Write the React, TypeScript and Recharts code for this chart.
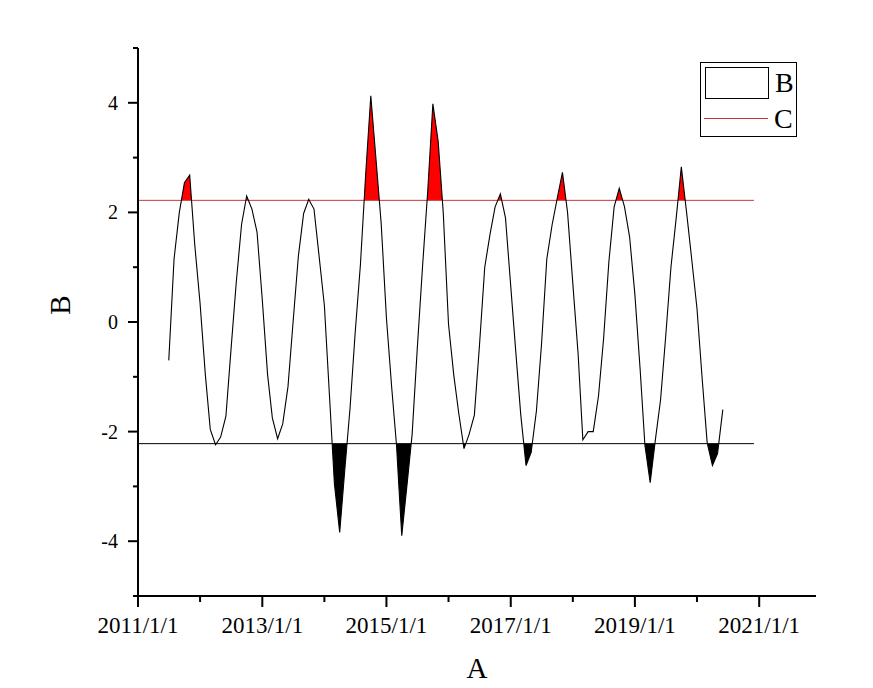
import React from 'react';
import { ComposedChart, Line, Area, XAxis, YAxis, ReferenceLine, Legend } from 'recharts';

// ---- data ----
const START_YEAR = 2011;
const START_MONTH = 7; // first monthly value: 2011/7/1
const B_VALUES: number[] = [
  -0.7, 1.15, 2.0, 2.54, 2.68, 1.4, 0.34, -0.96, -1.96, -2.24, -2.1, -1.72,
  -0.5, 0.73, 1.78, 2.3, 2.06, 1.64, 0.4, -0.96, -1.75, -2.13, -1.86, -1.18,
  0.0, 1.2, 1.98, 2.24, 2.06, 1.2, 0.3, -1.4, -2.95, -3.84, -2.7, -1.57,
  -0.2, 1.05, 2.7, 4.13, 2.95, 1.8, 0.07, -1.2, -2.24, -3.9, -3.0, -2.05,
  -0.5, 1.0, 2.4, 3.98, 3.3, 2.0, -0.04, -0.97, -1.66, -2.31, -2.05, -1.7,
  -0.43, 1.0, 1.6, 2.1, 2.34, 1.9, 0.65, -0.6, -1.7, -2.62, -2.38, -1.62,
  -0.4, 1.15, 1.77, 2.25, 2.73, 2.0, 0.7, -0.58, -2.15, -2.0, -2.0, -1.35,
  -0.3, 1.1, 2.1, 2.44, 2.1, 1.55, 0.5, -0.87, -2.25, -2.93, -2.16, -1.42,
  -0.27, 1.0, 1.9, 2.83, 2.0, 1.15, 0.25, -1.05, -2.2, -2.62, -2.4, -1.6,
];
const C_LEVEL = 2.22; // upper threshold line (series C)
const LOW_LEVEL = -2.22; // lower threshold line
const C_RANGE_DATES: [number, number, number][] = [[2011, 1, 1], [2020, 12, 1]];
const X_TICK_YEARS = [2011, 2012, 2013, 2014, 2015, 2016, 2017, 2018, 2019, 2020, 2021];
const X_DOMAIN_DATES: [number, number, number][] = [[2011, 1, 1], [2021, 12, 1]];
const Y_TICKS = [-5, -4, -3, -2, -1, 0, 1, 2, 3, 4, 5];

const utc = (y: number, m: number, d: number) => Date.UTC(y, m - 1, d);

type Row = { t: number; v: number | null; hi: [number, number]; lo: [number, number] };

const buildData = (): Row[] => {
  const pts = B_VALUES.map((v, i) => ({ t: utc(START_YEAR, START_MONTH + i, 1), v }));
  const rows: Row[] = [];
  pts.forEach((p, i) => {
    rows.push({
      t: p.t,
      v: p.v,
      hi: [C_LEVEL, Math.max(p.v, C_LEVEL)],
      lo: [Math.min(p.v, LOW_LEVEL), LOW_LEVEL],
    });
    const q = pts[i + 1];
    if (!q) return;
    const cross: number[] = [];
    [C_LEVEL, LOW_LEVEL].forEach((th) => {
      if ((p.v - th) * (q.v - th) < 0) {
        const f = (th - p.v) / (q.v - p.v);
        cross.push(p.t + f * (q.t - p.t));
      }
    });
    cross.sort((a, b) => a - b).forEach((t) => {
      rows.push({ t, v: null, hi: [C_LEVEL, C_LEVEL], lo: [LOW_LEVEL, LOW_LEVEL] });
    });
  });
  return rows;
};

const DATA = buildData();
const FONT = '"Liberation Serif", "Times New Roman", serif';

const XTick = (props: any) => {
  const { x, y, payload } = props;
  const year = new Date(payload.value).getUTCFullYear();
  const major = (year - X_TICK_YEARS[0]) % 2 === 0;
  return (
    <g>
      <line x1={x} x2={x} y1={y} y2={y + (major ? 11 : 6)} stroke="#000" strokeWidth={2} />
      {major && (
        <text x={x} y={y + 37} textAnchor="middle" fontFamily={FONT} fontSize={23} fill="#000">
          {`${year}/1/1`}
        </text>
      )}
    </g>
  );
};

const YTick = (props: any) => {
  const { x, y, payload } = props;
  const v = payload.value as number;
  const major = v % 2 === 0;
  return (
    <g>
      <line x1={x} x2={x - (major ? 10 : 5)} y1={y} y2={y} stroke="#000" strokeWidth={2} />
      {major && (
        <text x={x - 20} y={y + 7} textAnchor="end" fontFamily={FONT} fontSize={20} fill="#000">
          {String(v)}
        </text>
      )}
    </g>
  );
};

const LegendBox = () => (
  <div
    style={{
      width: 97,
      height: 75,
      border: '1px solid #000',
      boxSizing: 'border-box',
      background: '#fff',
      position: 'relative',
      fontFamily: FONT,
    }}
  >
    <svg width={95} height={73} style={{ position: 'absolute', left: 0, top: 0 }}>
      <rect x={4.5} y={4.5} width={63} height={31} fill="#fff" stroke="#000" strokeWidth={1} />
      <line x1={3} x2={67} y1={55.5} y2={55.5} stroke="#d03030" strokeWidth={1} />
      <text x={74} y={29} fontFamily={FONT} fontSize={28} fill="#000">B</text>
      <text x={73} y={65} fontFamily={FONT} fontSize={28} fill="#000">C</text>
    </svg>
  </div>
);

export default function App() {
  const xDomain = X_DOMAIN_DATES.map(([y, m, d]) => utc(y, m, d));
  const xTicks = X_TICK_YEARS.map((y) => utc(y, 1, 1));
  const cSeg = C_RANGE_DATES.map(([y, m, d]) => utc(y, m, d));
  return (
    <div style={{ width: 865, height: 680, background: '#fff' }}>
      <ComposedChart width={865} height={680} data={DATA} margin={{ top: 40, right: 57, bottom: 0, left: 0 }}>
        <XAxis
          dataKey="t"
          type="number"
          domain={xDomain}
          ticks={xTicks}
          allowDataOverflow
          height={92}
          tickSize={0}
          tickMargin={0}
          tickLine={false}
          tick={<XTick />}
          axisLine={{ stroke: '#000', strokeWidth: 2 }}
          interval={0}
          label={{
            value: 'A',
            position: 'insideBottom',
            offset: 10,
            style: { fontFamily: FONT, fontSize: 29, fill: '#000' },
          }}
        />
        <YAxis
          type="number"
          domain={[-5, 5]}
          ticks={Y_TICKS}
          width={130}
          tickSize={0}
          tickMargin={0}
          tickLine={false}
          tick={<YTick />}
          axisLine={{ stroke: '#000', strokeWidth: 2 }}
          interval={0}
          label={{
            content: (p: any) => {
              const vb = p.viewBox;
              const cx = vb.x + 52;
              const cy = vb.y + vb.height / 2 - 17;
              return (
                <text
                  x={cx}
                  y={cy}
                  textAnchor="middle"
                  dominantBaseline="central"
                  transform={`rotate(-90, ${cx}, ${cy})`}
                  fontFamily={FONT}
                  fontSize={29}
                  fill="#000"
                >
                  B
                </text>
              );
            },
          }}
        />
        <Area
          dataKey="hi"
          type="linear"
          fill="#ff0000"
          fillOpacity={1}
          stroke="none"
          dot={false}
          activeDot={false}
          isAnimationActive={false}
          legendType="none"
        />
        <Area
          dataKey="lo"
          type="linear"
          fill="#000000"
          fillOpacity={1}
          stroke="none"
          dot={false}
          activeDot={false}
          isAnimationActive={false}
          legendType="none"
        />
        <ReferenceLine
          segment={[{ x: cSeg[0], y: C_LEVEL }, { x: cSeg[1], y: C_LEVEL }]}
          stroke="#c83a3a"
          strokeWidth={1}
        />
        <ReferenceLine
          segment={[{ x: cSeg[0], y: LOW_LEVEL }, { x: cSeg[1], y: LOW_LEVEL }]}
          stroke="#000"
          strokeWidth={1}
        />
        <Line
          dataKey="v"
          type="linear"
          stroke="#000"
          strokeWidth={1.1}
          dot={false}
          activeDot={false}
          connectNulls
          isAnimationActive={false}
        />
        <Legend
          layout="horizontal"
          verticalAlign="middle"
          align="center"
          content={() => <LegendBox />}
          wrapperStyle={{ left: 692, top: 54, width: 97, height: 75, margin: 0 }}
        />
      </ComposedChart>
    </div>
  );
}
